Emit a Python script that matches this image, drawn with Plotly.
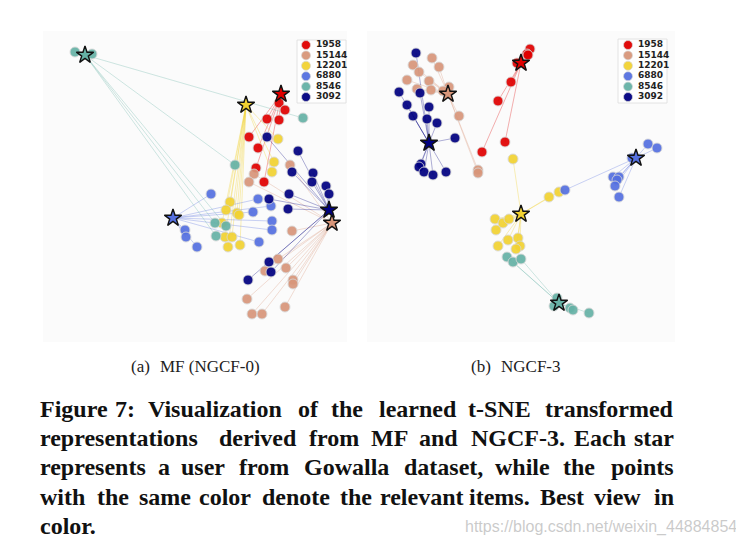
import plotly.graph_objects as go

# ---------------- data ----------------
categories = ["1958", "15144", "12201", "6880", "8546", "3092"]
colors = ["#e00000", "#d8967a", "#f2d232", "#5570e0", "#66b2a6", "#000080"]
line_colors = ["rgba(224,0,0,0.45)", "rgba(216,150,122,0.45)", "rgba(242,210,50,0.5)",
               "rgba(85,112,224,0.45)", "rgba(102,178,166,0.45)", "rgba(0,0,128,0.45)"]

# Panel (a) MF (NGCF-0): t-SNE coords (arbitrary units)
a_star_x = [238, 289, 203, 130, 42, 286]
a_star_y = [248, 119, 237, 124, 287, 132]
a_item_x = [
    [236, 242, 224, 236, 206, 215, 213, 221],
    [247, 211, 206, 249, 235, 222, 243, 250, 250, 204, 242, 209, 219],
    [235, 231, 229, 187, 183, 194, 196, 179, 182, 189, 185, 197],
    [168, 215, 228, 210, 229, 229, 142, 143, 154, 216],
    [32, 49, 260, 192, 172, 183, 173],
    [224, 255, 270, 249, 269, 283, 286, 246, 226, 245, 226, 228, 205],
]
a_item_y = [
    [239, 232, 223, 222, 205, 194, 174, 160],
    [177, 168, 160, 111, 83, 71, 74, 62, 58, 43, 35, 28, 28],
    [203, 180, 170, 140, 132, 129, 127, 119, 105, 105, 95, 97],
    [148, 143, 136, 130, 121, 112, 112, 105, 95, 100],
    [290, 288, 224, 177, 119, 116, 106],
    [205, 191, 169, 170, 160, 156, 148, 148, 143, 133, 80, 70, 62],
]

# Panel (b) NGCF-3
b_star_x = [156, 83, 156, 271, 194, 64]
b_star_y = [279, 248, 128, 184, 39, 199]
b_item_x = [
    [165, 162, 163, 152, 146, 133, 140, 117],
    [67, 48, 74, 54, 42, 64, 52, 66, 84, 78, 94, 113, 113],
    [148, 184, 194, 130, 138, 144, 131, 143, 153, 155, 151, 133],
    [283, 292, 267, 248, 254, 252, 250, 254, 200],
    [142, 148, 156, 192, 189, 205, 208, 224],
    [51, 34, 55, 42, 64, 48, 62, 72, 90, 56, 54, 59, 68, 81],
]
b_item_y = [
    [293, 288, 287, 279, 260, 241, 200, 190],
    [284, 277, 275, 270, 262, 261, 253, 252, 255, 251, 226, 172, 169],
    [183, 145, 150, 123, 119, 123, 112, 102, 104, 96, 93, 96],
    [198, 194, 184, 165, 165, 162, 156, 145, 152],
    [85, 80, 83, 44, 36, 34, 32, 29],
    [289, 250, 249, 237, 235, 226, 223, 219, 204, 178, 175, 170, 167, 170],
]

sub_captions = [("(a)", "MF (NGCF-0)"), ("(b)", "NGCF-3")]
caption_lines = [
    ["Figure", "7:", "Visualization", "of", "the", "learned", "t-SNE", "transformed"],
    ["representations", "derived", "from", "MF", "and", "NGCF-3.", "Each", "star"],
    ["represents", "a", "user", "from", "Gowalla", "dataset,", "while", "the", "points"],
    ["with", "the", "same", "color", "denote", "the", "relevant", "items.", "Best", "view", "in"],
    ["color."],
]
watermark = "https://blog.csdn.net/weixin_44884854"

# ---------------- layout helpers ----------------
# page body has an 8px margin, so the figure is 736x538 and placed at (8, 8)
OFF = 8
W, H = 744 - OFF, 546 - OFF
def px(x):
    return (x - OFF) / W
def py(y):
    return 1 - (y - OFF) / H

fig = go.Figure()

def add_panel(xa, ya, sx, sy, ix, iy):
    for k in range(len(categories)):
        lx, ly = [], []
        for x, y in zip(ix[k], iy[k]):
            lx += [sx[k], x, None]
            ly += [sy[k], y, None]
        fig.add_trace(go.Scatter(x=lx, y=ly, mode="lines", xaxis=xa, yaxis=ya,
                                 line=dict(color=line_colors[k], width=0.7),
                                 hoverinfo="skip", showlegend=False))
    for k in range(len(categories)):
        fig.add_trace(go.Scatter(x=ix[k], y=iy[k], mode="markers", xaxis=xa, yaxis=ya,
                                 marker=dict(size=10, color=colors[k], opacity=0.92,
                                             line=dict(color="rgba(215,215,215,0.9)", width=1)),
                                 cliponaxis=False, showlegend=False, name=categories[k]))
    for k in range(len(categories)):
        fig.add_trace(go.Scatter(x=[sx[k]], y=[sy[k]], mode="markers", xaxis=xa, yaxis=ya,
                                 marker=dict(symbol="star", size=13, color=colors[k],
                                             line=dict(color="#111111", width=1.4)),
                                 cliponaxis=False, showlegend=False))

add_panel("x", "y", a_star_x, a_star_y, a_item_x, a_item_y)
add_panel("x2", "y2", b_star_x, b_star_y, b_item_x, b_item_y)

# legends drawn as small scatter panels
legend_boxes = [(297, 346, 40, 103, 9, 19, "x3", "y3"), (618, 667, 39, 103, 10, 20, "x4", "y4")]
rows = list(range(len(categories)))
for (l, r, t, b, mx, tx, xa, ya) in legend_boxes:
    fig.add_trace(go.Scatter(x=[mx] * len(rows), y=rows, mode="markers", xaxis=xa, yaxis=ya,
                             marker=dict(size=9, color=colors, opacity=0.95,
                                         line=dict(color="rgba(215,215,215,0.9)", width=0.8)),
                             cliponaxis=False, showlegend=False, hoverinfo="skip"))
    fig.add_trace(go.Scatter(x=[tx] * len(rows), y=rows, mode="text", xaxis=xa, yaxis=ya,
                             text=categories, textposition="middle right",
                             textfont=dict(family="DejaVu Sans", size=9, color="#222222",
                                           weight="bold"),
                             cliponaxis=False, showlegend=False, hoverinfo="skip"))

axis_common = dict(visible=False, showgrid=False, zeroline=False, fixedrange=True)
fig.update_layout(
    width=W, height=H, margin=dict(l=0, r=0, t=0, b=0),
    paper_bgcolor="white", plot_bgcolor="rgba(0,0,0,0)",
    showlegend=False,
    xaxis=dict(domain=[px(43), px(346)], range=[0, 303], **axis_common),
    yaxis=dict(domain=[py(342), py(32)], range=[0, 310], **axis_common),
    xaxis2=dict(domain=[px(365), px(675)], range=[0, 310], anchor="y2", **axis_common),
    yaxis2=dict(domain=[py(342), py(32)], range=[0, 310], anchor="x2", **axis_common),
)
for (l, r, t, b, mx, tx, xa, ya) in legend_boxes:
    n = xa[1:]
    fig.update_layout(**{
        f"xaxis{n}": dict(domain=[px(l), px(r)], range=[0, r - l], anchor=f"y{n}", **axis_common),
        f"yaxis{n}": dict(domain=[py(b), py(t)], range=[(b - 45) / 10.4, (t - 45) / 10.4],
                          anchor=f"x{n}", **axis_common),
    })

shapes = []
for (l, r) in [(43, 347), (367, 675)]:
    shapes.append(dict(type="rect", xref="paper", yref="paper", x0=px(l), x1=px(r),
                       y0=py(342), y1=py(31), fillcolor="#fbfbfb", line=dict(width=0),
                       layer="below"))
for (l, r, t, b, *_rest) in legend_boxes:
    shapes.append(dict(type="rect", xref="paper", yref="paper", x0=px(l), x1=px(r),
                       y0=py(b), y1=py(t), fillcolor="rgba(255,255,255,0.8)",
                       line=dict(color="#dddddd", width=0.8), layer="below"))
fig.update_layout(shapes=shapes)

ann = []
serif = "Liberation Serif"
sub_pos = [(140, 210), (481, 531)]
for (lab, name), (x1, x2) in zip(sub_captions, sub_pos):
    for txt, xx in ((lab, x1), (name, x2)):
        ann.append(dict(text=txt, x=px(xx), y=py(366), xref="paper", yref="paper",
                        xanchor="center", yanchor="middle", showarrow=False,
                        font=dict(family=serif, size=17, color="#222222")))

word_centers = [
    [38, 124.5, 215, 308.5, 347, 418, 499, 676],
    [38, 257.5, 334, 389.5, 438.5, 518, 600, 676],
    [38, 164, 203, 264, 346, 443, 522.5, 578.5, 676],
    [38, 112.5, 164.5, 225, 295.5, 356, 421.5, 499, 561.5, 617.5, 676],
    [38],
]
line_y = [409, 438, 467, 497, 526]
for words, xs, yy in zip(caption_lines, word_centers, line_y):
    n = len(words)
    for j, (w, xc) in enumerate(zip(words, xs)):
        if j == 0:
            xa = "left"
        elif j == n - 1 and n > 1:
            xa = "right"
        else:
            xa = "center"
        ann.append(dict(text=w, x=px(xc), y=py(yy), xref="paper", yref="paper",
                        xanchor=xa, yanchor="middle", showarrow=False,
                        font=dict(family=serif, size=24, color="#111111", weight="bold")))

ann.append(dict(text=watermark, x=px(739), y=py(527), xref="paper", yref="paper",
                xanchor="right", yanchor="middle", showarrow=False,
                font=dict(family="Liberation Sans", size=16, color="rgba(185,185,185,0.75)")))
fig.update_layout(annotations=ann)

fig.write_html("out.html")
